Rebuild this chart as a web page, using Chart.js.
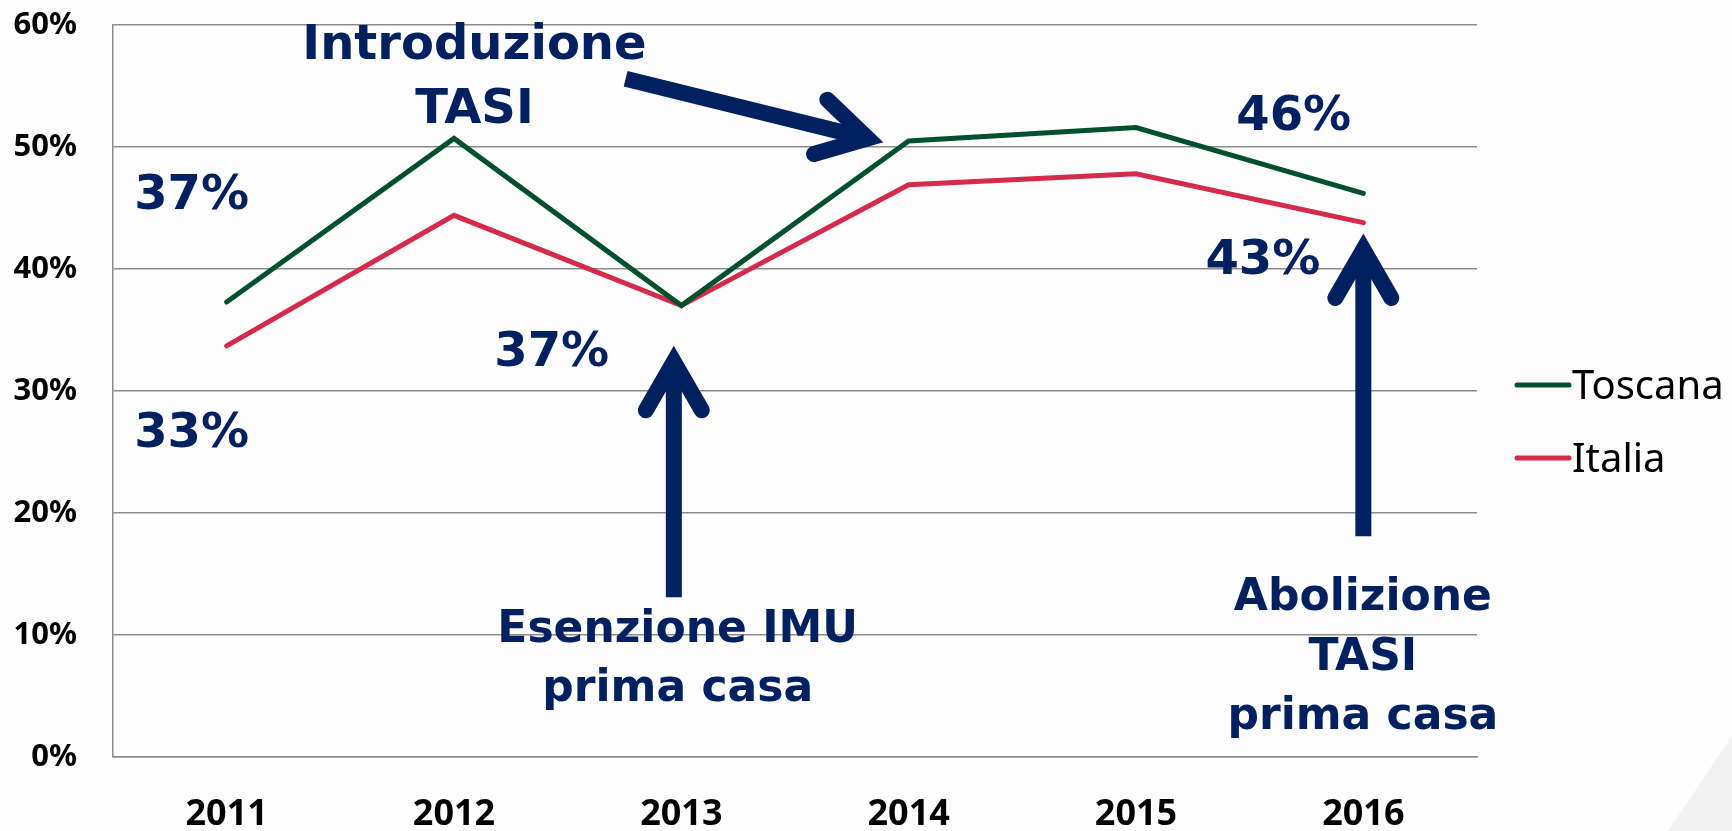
<!DOCTYPE html>
<html>
<head>
<meta charset="utf-8">
<script src="https://cdn.jsdelivr.net/npm/chart.js@4.4.0/dist/chart.umd.min.js"></script>
<style>
  html, body { margin: 0; padding: 0; background: #fdfdfd; }
  #wrap { position: relative; width: 1732px; height: 831px; }
  #corner { position: absolute; left: 0; top: 0; width: 1732px; height: 831px; background: #f2f2f2;
            clip-path: polygon(1668px 831px, 1732px 736px, 1732px 831px); }
  canvas { position: absolute; left: 0; top: 0; }
</style>
</head>
<body>
<div id="wrap"><div id="corner"></div><canvas id="myChart" width="1732" height="831"></canvas></div>
<script>
// data
const years = ['2011', '2012', '2013', '2014', '2015', '2016'];
const toscana = [0.373, 0.507, 0.370, 0.505, 0.516, 0.462];
const italia = [0.337, 0.444, 0.370, 0.469, 0.478, 0.438];
const yTicks = [0, 0.1, 0.2, 0.3, 0.4, 0.5, 0.6];

const navy = '#002060';
const gridGray = '#8c8c8c';

// text notes placed in data units (category index, value)
const notes = [
    { text: 'Introduzione', x: 1.09, y: 0.582, size: 48 },
    { text: 'TASI', x: 1.09, y: 0.530, size: 48 },
    { text: '37%', x: -0.154, y: 0.459, size: 48 },
    { text: '33%', x: -0.154, y: 0.264, size: 48 },
    { text: '37%', x: 1.43, y: 0.331, size: 48 },
    { text: '46%', x: 4.694, y: 0.524, size: 48 },
    { text: '43%', x: 4.558, y: 0.406, size: 48 },
    { text: 'Esenzione IMU', x: 1.984, y: 0.104, size: 44 },
    { text: 'prima casa', x: 1.984, y: 0.055, size: 44 },
    { text: 'Abolizione', x: 4.998, y: 0.130, size: 44 },
    { text: 'TASI', x: 4.998, y: 0.081, size: 44 },
    { text: 'prima casa', x: 4.998, y: 0.032, size: 44 },
];

const arrows = [
    { from: [1.755, 0.556], to: [2.82, 0.507] },
    { from: [1.967, 0.131], to: [1.967, 0.324] },
    { from: [5.0, 0.181], to: [5.0, 0.416] },
];

const drawArrow = (ctx, x1, y1, x2, y2) => {
    const ang = Math.atan2(y2 - y1, x2 - x1);
    const len = 56;
    const spread = Math.PI / 6;
    ctx.strokeStyle = navy;
    ctx.lineWidth = 16;
    ctx.lineCap = 'butt';
    ctx.beginPath();
    ctx.moveTo(x1, y1);
    ctx.lineTo(x2, y2);
    ctx.stroke();
    ctx.lineCap = 'round';
    ctx.lineJoin = 'miter';
    ctx.beginPath();
    ctx.moveTo(x2 - len * Math.cos(ang - spread), y2 - len * Math.sin(ang - spread));
    ctx.lineTo(x2, y2);
    ctx.lineTo(x2 - len * Math.cos(ang + spread), y2 - len * Math.sin(ang + spread));
    ctx.stroke();
};

const notesPlugin = {
    id: 'notes',
    afterDatasetsDraw(chart) {
        const ctx = chart.ctx;
        const xs = chart.scales.x;
        const ys = chart.scales.y;
        ctx.save();
        arrows.forEach(a => {
            drawArrow(ctx,
                xs.getPixelForValue(a.from[0]), ys.getPixelForValue(a.from[1]),
                xs.getPixelForValue(a.to[0]), ys.getPixelForValue(a.to[1]));
        });
        ctx.fillStyle = navy;
        ctx.textAlign = 'center';
        ctx.textBaseline = 'middle';
        notes.forEach(n => {
            ctx.font = 'bold ' + n.size + 'px "DejaVu Sans"';
            ctx.fillText(n.text, xs.getPixelForValue(n.x), ys.getPixelForValue(n.y));
        });
        ctx.restore();
    }
};

// simple line legend on the right
const legendPlugin = {
    id: 'lineLegend',
    afterDraw(chart) {
        const ctx = chart.ctx;
        const x0 = chart.chartArea.right + 40;
        let y = 385;
        ctx.save();
        chart.data.datasets.forEach(ds => {
            ctx.strokeStyle = ds.borderColor;
            ctx.lineWidth = 5;
            ctx.lineCap = 'round';
            ctx.beginPath();
            ctx.moveTo(x0, y);
            ctx.lineTo(x0 + 52, y);
            ctx.stroke();
            ctx.fillStyle = '#000';
            ctx.font = '40px "Noto Sans"';
            ctx.textAlign = 'left';
            ctx.textBaseline = 'alphabetic';
            ctx.fillText(ds.label, x0 + 55, y + 14);
            y += 73;
        });
        ctx.restore();
    }
};

const makeChart = () => {
    const canvas = document.getElementById('myChart');
    new Chart(canvas, {
        type: 'line',
        data: {
            labels: years,
            datasets: [
                {
                    label: 'Toscana',
                    data: toscana,
                    borderColor: '#00502f',
                    backgroundColor: '#00502f',
                    borderWidth: 5,
                    borderCapStyle: 'round',
                    pointRadius: 0,
                    tension: 0,
                },
                {
                    label: 'Italia',
                    data: italia,
                    borderColor: '#d42a4b',
                    backgroundColor: '#d42a4b',
                    borderWidth: 5,
                    borderCapStyle: 'round',
                    pointRadius: 0,
                    tension: 0,
                }
            ]
        },
        options: {
            responsive: false,
            animation: false,
            devicePixelRatio: 1,
            layout: { padding: { top: 25, right: 255, left: 0, bottom: 0 } },
            plugins: {
                legend: { display: false },
                tooltip: { enabled: false }
            },
            scales: {
                x: {
                    type: 'category',
                    offset: true,
                    grid: { display: false },
                    border: { color: gridGray, width: 1.5 },
                    ticks: {
                        color: '#000',
                        font: { family: 'Noto Sans', weight: 'bold', size: 36 },
                        padding: 28,
                        maxRotation: 0
                    },
                    afterFit: (scale) => { scale.height = 74; }
                },
                y: {
                    min: 0,
                    max: 0.6,
                    afterBuildTicks: (scale) => { scale.ticks = yTicks.map(v => ({ value: v })); },
                    grid: { color: gridGray, lineWidth: 1.5, drawTicks: false },
                    border: { color: gridGray, width: 1.5 },
                    ticks: {
                        color: '#000',
                        font: { family: 'Noto Sans', weight: 'bold', size: 31 },
                        padding: 36,
                        callback: (v) => Math.round(v * 100) + '%'
                    },
                    afterFit: (scale) => {
                        scale.width = 113;
                        // the tick padding would otherwise push the plot top down
                        scale.paddingTop = 0;
                        scale.paddingBottom = 0;
                    }
                }
            }
        },
        plugins: [notesPlugin, legendPlugin]
    });
};

makeChart();
</script>
</body>
</html>
